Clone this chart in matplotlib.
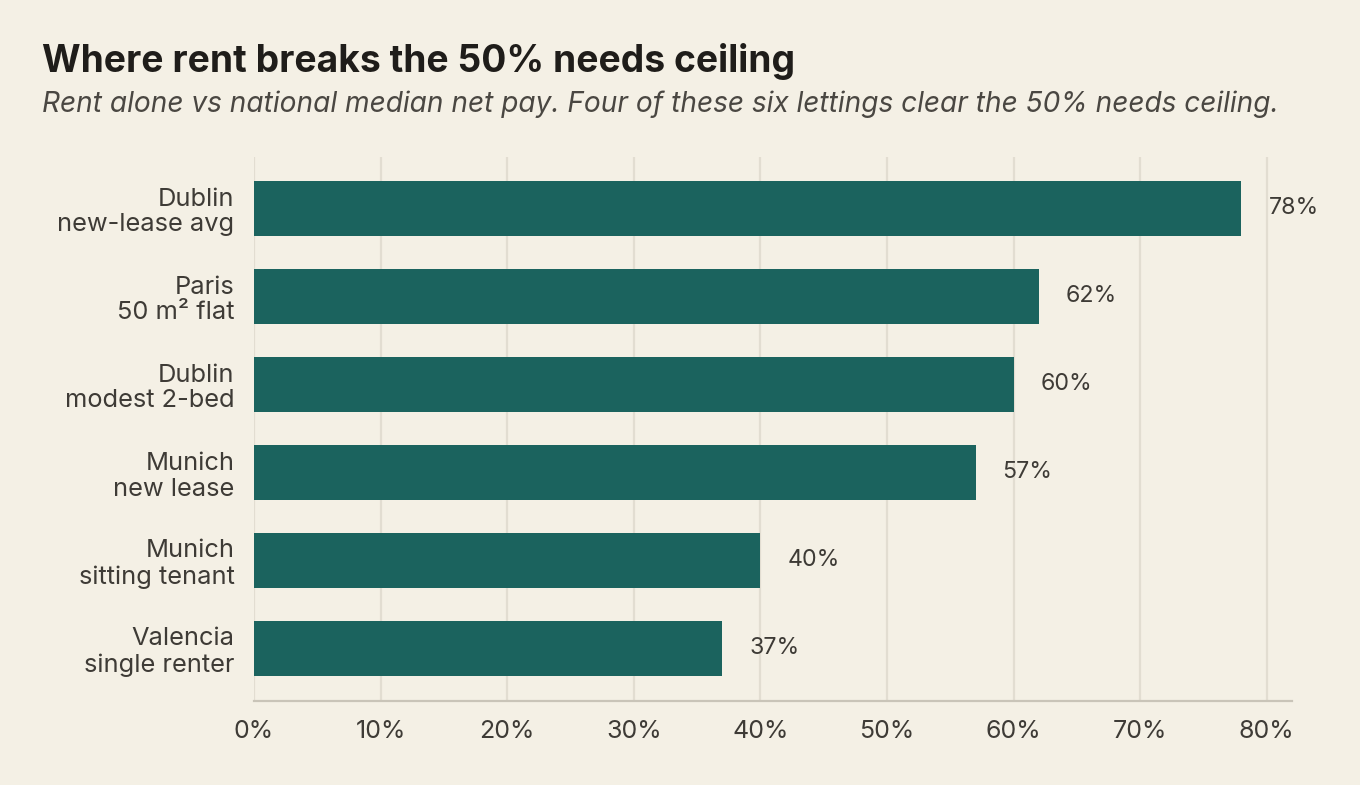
import matplotlib
matplotlib.use("Agg")
import matplotlib.pyplot as plt
from matplotlib.ticker import FuncFormatter

categories = ["Dublin\nnew-lease avg", "Paris\n50 m² flat", "Dublin\nmodest 2-bed",
              "Munich\nnew lease", "Munich\nsitting tenant", "Valencia\nsingle renter"]
values = [78, 62, 60, 57, 40, 37]
xticks = [0, 10, 20, 30, 40, 50, 60, 70, 80]

BG = "#f4f0e5"
BAR = "#1b635e"
TXT = "#3e3b36"
TITLE = "#1f1d1a"
GRID = "#e2ddd1"
BASE = "#c9c4b8"

plt.rcParams['font.family'] = ['Inter', 'DejaVu Sans']

fig = plt.figure(figsize=(13.6, 7.85), dpi=100, facecolor=BG)
ax = fig.add_axes([254/1360, 1-701/785, (1292-254)/1360, (701-157)/785])
ax.set_facecolor(BG)

ypos = list(range(len(categories)))
ax.barh(ypos, values, height=0.625, color=BAR, zorder=3)
for y, v in zip(ypos, values):
    ax.annotate(f"{v}%", (v, y), xytext=(19.5, 0), textcoords="offset points",
                va="center", ha="left", fontsize=16.7, color=TXT)

ax.set_xlim(0, 82)
ax.set_ylim(5.6, -0.58)
ax.set_xticks(xticks)
ax.xaxis.set_major_formatter(FuncFormatter(lambda x, p: f"{int(x)}%"))
ax.set_yticks(ypos)
ax.set_yticklabels(categories, fontsize=18.3, color=TXT, linespacing=1.16)
ax.tick_params(axis="x", length=0, pad=14, labelsize=18, labelcolor=TXT)
ax.tick_params(axis="y", length=0, pad=14)
for lab in ax.get_yticklabels():
    lab.set_horizontalalignment("right")

ax.grid(axis="x", color=GRID, linewidth=1.6, zorder=0)
ax.grid(axis="y", visible=False)
for s in ["top", "right", "left"]:
    ax.spines[s].set_visible(False)
ax.spines["bottom"].set_color(BASE)
ax.spines["bottom"].set_linewidth(1.6)

fig.text(42/1360, 1-61/785, "Where rent breaks the 50% needs ceiling", fontsize=26.8,
         fontweight="bold", color=TITLE, va="center", ha="left")
fig.text(42/1360, 1-104/785,
         "Rent alone vs national median net pay. Four of these six lettings clear the 50% needs ceiling.",
         fontsize=20.2, fontstyle="italic", color="#4a4742", va="center", ha="left")

fig.savefig("out.png", dpi=100, facecolor=BG)
